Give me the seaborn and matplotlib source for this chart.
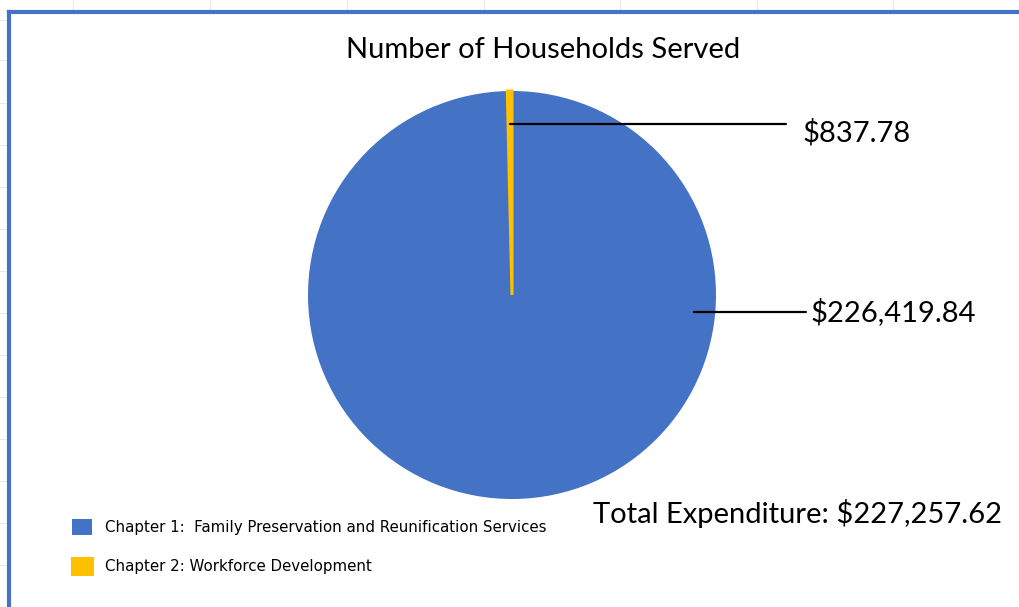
import numpy as np
import matplotlib.pyplot as plt
import seaborn as sns

# donnees
categories = ["Chapter 1:  Family Preservation and Reunification Services",
              "Chapter 2: Workforce Development"]
expenditure = [226419.84, 837.78]
value_labels = ["$226,419.84", "$837.78"]
total_label = "Total Expenditure: $227,257.62"
title = "Number of Households Served"

sns.set_theme(style="white")
plt.rcParams['font.family'] = ['Lato', 'DejaVu Sans']
plt.rcParams['text.color'] = 'black'

W, H = 1019, 607
fig = plt.figure(figsize=(W / 100, H / 100), dpi=100)
ax = fig.add_axes([0, 0, 1, 1])

blue, yellow = "#4472C4", "#FFC000"
cx, cy, r = 512, H - 295, 204

wedges, _ = ax.pie(expenditure, colors=[blue, yellow], startangle=90,
                   counterclock=False, center=(cx, cy), radius=r,
                   frame=True)
wedges[0].set_linewidth(0)
wedges[1].set_edgecolor(yellow)
wedges[1].set_linewidth(2.2)
ax.set_xlim(0, W)
ax.set_ylim(0, H)
ax.set_aspect("auto")
ax.axis("off")

# fond facon tableur + cadre bleu
for gx in [73, 210, 347, 484, 620, 757, 893]:
    ax.plot([gx, gx], [H - 10, H], color="#e4e4e4", lw=0.6)
for gy in [20, 60, 103, 145, 187, 229, 271, 313, 355, 397, 439, 481, 523, 565]:
    ax.plot([0, 7], [H - gy, H - gy], color="#e4e4e4", lw=0.6)
ax.plot([9, 9], [-10, H - 12], color=blue, lw=3, solid_capstyle="projecting")
ax.plot([9, W + 10], [H - 12, H - 12], color=blue, lw=3, solid_capstyle="projecting")

ax.text(543, H - 50, title, ha="center", va="center", fontsize=21)

# etiquettes avec traits de rappel
theta_y = np.deg2rad((wedges[1].theta1 + wedges[1].theta2) / 2)
y0 = cy + 0.84 * r * np.sin(theta_y)
ax.plot([cx + 0.84 * r * np.cos(theta_y), 786], [y0, y0], color="black", lw=1.6)
ax.text(803, H - 133, value_labels[1], va="center", ha="left", fontsize=21)

y1 = cy - 0.085 * r
ax.plot([cx + 0.89 * r, 806], [y1, y1], color="black", lw=1.6)
ax.text(811, H - 312, value_labels[0], va="center", ha="left", fontsize=21)

ax.text(593, H - 514, total_label, ha="left", va="center", fontsize=21)

leg = ax.legend(wedges, categories, loc="upper left", bbox_to_anchor=(65, H - 511),
                bbox_transform=ax.transData, frameon=False, borderpad=0,
                handlelength=1.3, handleheight=1.3, handletextpad=0.85,
                labelspacing=1.55, prop={"family": "DejaVu Sans", "size": 10.8})
for t in leg.get_texts():
    t.set_color("black")

fig.savefig("out.png", dpi=100, facecolor="white")
